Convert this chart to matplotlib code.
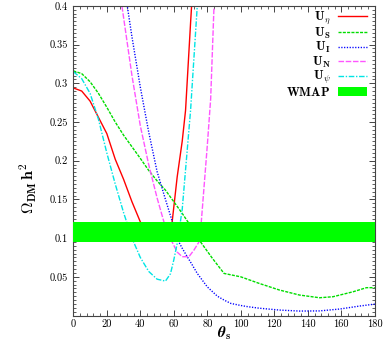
import matplotlib
matplotlib.use("Agg")
import matplotlib.pyplot as plt
from matplotlib.ticker import MultipleLocator, FixedLocator

plt.rcParams['font.family'] = 'serif'
plt.rcParams['font.serif'] = ['cmr10', 'DejaVu Serif']
plt.rcParams['mathtext.fontset'] = 'cm'
plt.rcParams['axes.formatter.use_mathtext'] = True

# ---- data ----
x_eta = [0, 5, 10, 15, 20, 25, 30, 35, 40, 45, 50, 55, 59, 62, 65, 67, 70, 72]
y_eta = [0.294, 0.290, 0.277, 0.256, 0.235, 0.202, 0.176, 0.147, 0.121, 0.105,
         0.098, 0.102, 0.121, 0.179, 0.225, 0.265, 0.378, 0.45]

x_S = [0, 5, 10, 15, 20, 25, 30, 35, 40, 45, 50, 55, 60, 65, 68.4, 70, 76, 80, 83,
       90, 100, 111, 123, 135, 147, 155, 167, 175, 180]
y_S = [0.316, 0.3125, 0.302, 0.287, 0.269, 0.250, 0.233, 0.218, 0.203, 0.1875,
       0.174, 0.162, 0.147, 0.132, 0.121, 0.117, 0.095, 0.083, 0.074,
       0.0544, 0.050, 0.0415, 0.033, 0.0265, 0.023, 0.0243, 0.0307, 0.036, 0.036]

x_I = [31.5, 35, 40, 45, 50, 55, 60, 63, 65, 68, 70, 74, 80, 86, 90, 94, 100, 104,
       111, 123, 135, 147, 159, 171, 180]
y_I = [0.41, 0.36, 0.295, 0.237, 0.186, 0.150, 0.115, 0.095, 0.087, 0.076, 0.069,
       0.0544, 0.037, 0.025, 0.020, 0.0157, 0.013, 0.0115, 0.0095, 0.0071, 0.0058,
       0.006, 0.0084, 0.0123, 0.0148]

x_N = [28, 30, 35, 40, 45, 50, 55, 59, 62, 65, 69, 72, 75, 76.4, 80, 82, 84, 85]
y_N = [0.415, 0.385, 0.31, 0.245, 0.195, 0.152, 0.114, 0.095, 0.082, 0.076,
       0.076, 0.0845, 0.095, 0.121, 0.22, 0.28, 0.40, 0.46]

x_psi = [0, 5, 10, 15, 20, 25, 30, 35, 40, 45, 50, 55, 58, 60, 62, 65, 70, 74, 75]
y_psi = [0.315, 0.306, 0.287, 0.2535, 0.21, 0.17, 0.133, 0.10, 0.075, 0.057,
         0.047, 0.0445, 0.054, 0.072, 0.093, 0.137, 0.265, 0.40, 0.44]

wmap_low, wmap_high = 0.095, 0.121

labels = [r'$\mathbf{U}_{\eta}$', r'$\mathbf{U_S}$', r'$\mathbf{U_I}$',
          r'$\mathbf{U_N}$', r'$\mathbf{U}_{\psi}$', r'$\mathbf{WMAP}$']
x_ticks = [0, 20, 40, 60, 80, 100, 120, 140, 160, 180]
y_ticks = [0.05, 0.1, 0.15, 0.2, 0.25, 0.3, 0.35, 0.4]

fig = plt.figure(figsize=(3.88, 3.46), dpi=100)
ax = fig.add_axes([0.189, 0.088, 0.777, 0.895])

lw = 1.0
ax.plot(x_eta, y_eta, color='#ff0000', lw=lw, label=labels[0], zorder=2)
ax.plot(x_S, y_S, color='#00dd00', lw=lw, dashes=(2.2, 0.9), label=labels[1], zorder=2)
ax.plot(x_I, y_I, color='#0000ff', lw=lw, dashes=(0.9, 1.1), label=labels[2], zorder=2)
ax.plot(x_N, y_N, color='#ff55ff', lw=lw, dashes=(4, 1.2), label=labels[3], zorder=2)
ax.plot(x_psi, y_psi, color='#00e5e5', lw=lw, dashes=(4, 1.2, 1, 1.2), label=labels[4], zorder=2)
ax.axhspan(wmap_low, wmap_high, color='#00ff00', lw=0, label=labels[5], zorder=3)

ax.set_xlim(0, 180)
ax.set_ylim(0, 0.4)
ax.xaxis.set_major_locator(FixedLocator(x_ticks))
ax.xaxis.set_minor_locator(MultipleLocator(4))
ax.yaxis.set_major_locator(FixedLocator(y_ticks))
ax.yaxis.set_minor_locator(MultipleLocator(0.005))
ax.set_xticklabels([str(t) for t in x_ticks])
ax.set_yticklabels(['%g' % t for t in y_ticks])

ax.tick_params(which='both', direction='in', top=True, right=True, color='#444444',
               labelsize=7.5)
ax.tick_params(which='major', length=4, width=0.7)
ax.tick_params(axis='x', which='major', pad=3)
ax.tick_params(axis='y', which='major', pad=4)
ax.tick_params(which='minor', length=2, width=0.6)
for s in ax.spines.values():
    s.set_color('#444444')
    s.set_linewidth(0.8)

ax.set_xlabel(r'$\boldsymbol{\theta}_{\mathbf{s}}$', fontsize=11)
ax.xaxis.set_label_coords(0.5, -0.03)
ax.set_ylabel(r'$\mathbf{\Omega_{DM}\,h^2}$', fontsize=11.5)
ax.yaxis.set_label_coords(-0.115, 0.41)

leg = ax.legend(loc='upper right', frameon=False, markerfirst=False, fontsize=9,
                handlelength=2.3, labelspacing=-0.05, borderaxespad=0.0,
                borderpad=0.3, handletextpad=0.6, bbox_to_anchor=(0.985, 1.0))

fig.savefig('out.png', dpi=100)
